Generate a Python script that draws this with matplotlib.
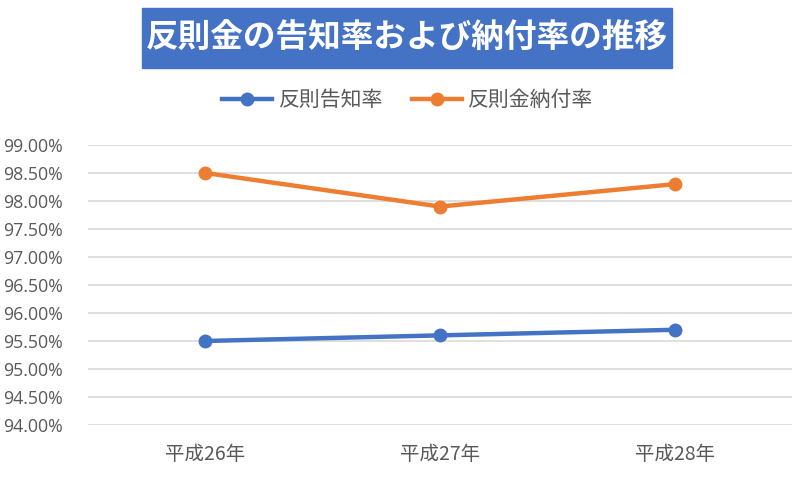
import matplotlib.pyplot as plt
from matplotlib.patches import Rectangle
from matplotlib.ticker import PercentFormatter, MultipleLocator

plt.rcParams['font.family'] = ['Noto Sans CJK JP', 'DejaVu Sans']

# データ
years = ['平成26年', '平成27年', '平成28年']
notice_rate = [95.5, 95.6, 95.7]      # 反則告知率
payment_rate = [98.5, 97.9, 98.3]     # 反則金納付率

BLUE = '#4472C4'
ORANGE = '#ED7D31'
GRAY = '#595959'

fig = plt.figure(figsize=(8, 4.8), dpi=100)
ax = fig.add_axes([0.11, 0.1146, 0.88, 0.5834])

x = range(len(years))
ax.plot(x, notice_rate, color=BLUE, lw=3.2, marker='o', ms=9, label='反則告知率')
ax.plot(x, payment_rate, color=ORANGE, lw=3.2, marker='o', ms=9, label='反則金納付率')

ax.set_xlim(-0.5, len(years) - 0.5)
ax.set_ylim(94, 99)
ax.yaxis.set_major_locator(MultipleLocator(0.5))
ax.yaxis.set_major_formatter(PercentFormatter(decimals=2))
ax.set_xticks(list(x))
ax.set_xticklabels(years)

ax.grid(axis='y', color='#D9D9D9', lw=1.2)
ax.set_axisbelow(True)
for s in ax.spines.values():
    s.set_visible(False)
ax.tick_params(length=0, colors=GRAY)
ax.tick_params(axis='y', labelsize=12.8, pad=18)
ax.tick_params(axis='x', labelsize=14, pad=14)
for lab in ax.get_yticklabels():
    lab.set_family(['Open Sans', 'DejaVu Sans'])

# 凡例
ax.legend(loc='center', bbox_to_anchor=(0.51, 0.792), bbox_transform=fig.transFigure,
          ncol=2, frameon=False, fontsize=15, labelcolor=GRAY,
          handlelength=2.4, columnspacing=1.4, handletextpad=0.3)

# タイトル（青い箱）
fig.patches.append(Rectangle((142 / 800, 1 - 68 / 480), 530 / 800, 60 / 480,
                             transform=fig.transFigure, color=BLUE, zorder=0))
fig.text(407 / 800, 1 - 38 / 480, '反則金の告知率および納付率の推移',
         ha='center', va='center', color='white', fontsize=23.5, fontweight='bold')

fig.savefig('out.png', dpi=100)
